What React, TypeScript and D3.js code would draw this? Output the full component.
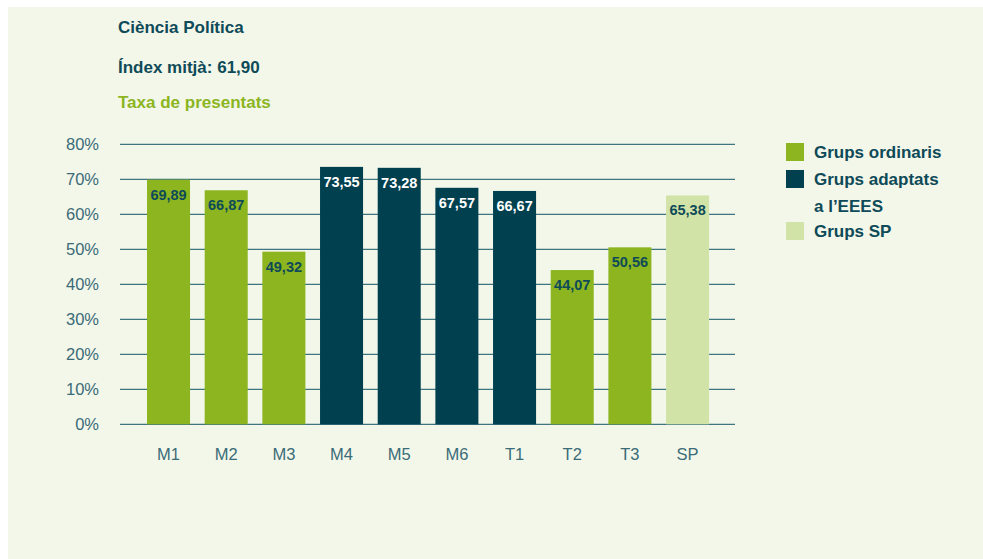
import React from "react";
import * as d3 from "d3";

const categories = ["M1", "M2", "M3", "M4", "M5", "M6", "T1", "T2", "T3", "SP"];
const values = [69.89, 66.87, 49.32, 73.55, 73.28, 67.57, 66.67, 44.07, 50.56, 65.38];
const groups = ["ord", "ord", "ord", "ad", "ad", "ad", "ad", "ord", "ord", "sp"];
const yTicks = [0, 10, 20, 30, 40, 50, 60, 70, 80];
const legendItems = [
  { key: "ord", lines: ["Grups ordinaris"] },
  { key: "ad", lines: ["Grups adaptats", "a l’EEES"] },
  { key: "sp", lines: ["Grups SP"] },
];

const colors: Record<string, string> = { ord: "#8cb51f", ad: "#00404f", sp: "#d1e3a7" };
const labelColors: Record<string, string> = { ord: "#0e4a58", ad: "#ffffff", sp: "#0e4a58" };
const dark = "#0e4a58";
const font = "Liberation Sans, Arial, Helvetica, sans-serif";

export default function App() {
  const W = 983, H = 559;
  const y = d3.scaleLinear().domain([0, 80]).range([424.3, 144.3]);
  const x = d3.scaleBand<string>().domain(categories).range([139.7, 716.4]).paddingInner(0.254).paddingOuter(0.127);

  return (
    <svg width={W} height={H} style={{ position: "absolute", left: 0, top: 0 }} fontFamily={font}>
      <rect x={0} y={0} width={W} height={H} fill="#ffffff" />
      <rect x={8} y={7} width={W - 8} height={H - 7} fill="#f3f7e9" />
      <text x={118} y={33} fontSize={17} fontWeight="bold" fill={dark}>Ciència Política</text>
      <text x={118} y={73} fontSize={17} fontWeight="bold" fill={dark}>Índex mitjà: 61,90</text>
      <text x={118} y={108} fontSize={17} fontWeight="bold" fill="#8cb51f">Taxa de presentats</text>

      {yTicks.map((t) => (
        <g key={t}>
          <line x1={120} x2={735} y1={y(t)} y2={y(t)} stroke="#3f7580" strokeWidth={1.2} />
          <text x={99} y={y(t) + 6} fontSize={16.5} textAnchor="end" fill="#3a6b78">{t}%</text>
        </g>
      ))}

      {categories.map((c, i) => (
        <g key={c}>
          <rect x={x(c)} y={y(values[i])} width={x.bandwidth()} height={y(0) - y(values[i])} fill={colors[groups[i]]} />
          <text x={(x(c) as number) + x.bandwidth() / 2} y={y(values[i]) + 20} fontSize={14.5} fontWeight="bold"
            textAnchor="middle" fill={labelColors[groups[i]]}>
            {values[i].toFixed(2).replace(".", ",")}
          </text>
          <text x={(x(c) as number) + x.bandwidth() / 2} y={460} fontSize={16.5} textAnchor="middle" fill="#3a6b78">{c}</text>
        </g>
      ))}

      {(() => {
        const offsets = [143, 170, 222];
        return legendItems.map((it, i) => (
          <g key={it.key}>
            <rect x={786} y={offsets[i]} width={18} height={18} fill={colors[it.key]} />
            {it.lines.map((l, j) => (
              <text key={j} x={814} y={offsets[i] + 15 + j * 27} fontSize={17} fontWeight="bold" fill={dark}>{l}</text>
            ))}
          </g>
        ));
      })()}
    </svg>
  );
}
